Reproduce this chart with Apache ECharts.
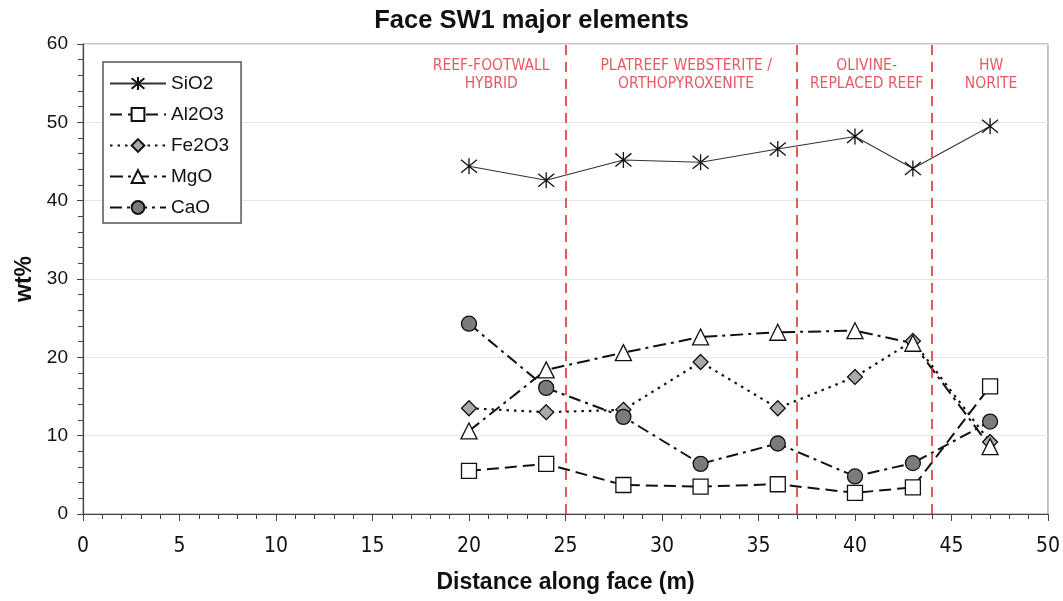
<!DOCTYPE html>
<html>
<head>
<meta charset="utf-8">
<script src="https://cdn.jsdelivr.net/npm/echarts@6/dist/echarts.min.js"></script>
<style>html,body{margin:0;padding:0;background:#fff}#c{width:1063px;height:601px}</style>
</head>
<body>
<div id="c"></div>
<script>
const distance = [20, 24, 28, 32, 36, 40, 43, 47];
const SiO2  = [44.4, 42.6, 45.2, 44.9, 46.6, 48.2, 44.1, 49.5];
const Al2O3 = [5.5, 6.4, 3.7, 3.5, 3.8, 2.7, 3.4, 16.3];
const Fe2O3 = [13.5, 13.0, 13.3, 19.4, 13.5, 17.5, 22.1, 9.2];
const MgO   = [10.6, 18.4, 20.6, 22.6, 23.2, 23.4, 21.8, 8.6];
const CaO   = [24.3, 16.1, 12.4, 6.4, 9.0, 4.8, 6.5, 11.8];
const boundaries = [25, 37, 44];
const regionNames = ['REEF-FOOTWALL\nHYBRID', 'PLATREEF WEBSTERITE /\nORTHOPYROXENITE', 'OLIVINE-\nREPLACED REEF', 'HW\nNORITE'];
const regionLabelX = [21.15, 31.25, 40.6, 47.05];
const regionLabelY = 56.1;

const pts = arr => distance.map((d, i) => [d, arr[i]]);
const FONT = '"Liberation Sans", Arial, sans-serif';
const NARROW = '"Liberation Sans Narrow", "DejaVu Sans Condensed", Arial, sans-serif';
const star = 'path://M0,-10L0,10M-6,-8.2L6,8.2M-6,8.2L6,-8.2';

function lineSeries(name, arr, symbol, size, fill, dash, width, lineColor) {
  return {
    name, type: 'line', data: pts(arr), symbol, symbolSize: size,
    itemStyle: { color: fill, borderColor: '#111', borderWidth: 1.3 },
    lineStyle: { color: lineColor || '#111', width, type: dash },
    emphasis: { disabled: true }, z: 3
  };
}

const chart = echarts.init(document.getElementById('c'), null, { renderer: 'canvas' });
chart.setOption({
  animation: false,
  backgroundColor: '#fff',
  title: {
    text: 'Face SW1 major elements', left: 'center', top: 3,
    textStyle: { fontFamily: FONT, fontSize: 25.5, fontWeight: 'bold', color: '#111' }
  },
  grid: { left: 83, right: 15, top: 44, bottom: 87, show: true, borderColor: '#888', borderWidth: 1, backgroundColor: 'transparent' },
  legend: {
    left: 103, top: 62, orient: 'vertical',
    itemWidth: 56, itemHeight: 16, itemGap: 12,
    padding: [12, 12, 6, 6],
    borderColor: '#555', borderWidth: 1.5, backgroundColor: '#fff',
    textStyle: { fontFamily: FONT, fontSize: 19, color: '#111' },
    data: ['SiO2', 'Al2O3', 'Fe2O3', 'MgO', 'CaO']
  },
  xAxis: {
    type: 'value', min: 0, max: 50, interval: 5,
    name: 'Distance along face (m)', nameLocation: 'middle', nameGap: 57,
    nameTextStyle: { fontFamily: FONT, fontSize: 23, fontWeight: 'bold', color: '#111' },
    axisLine: { lineStyle: { color: '#444', width: 1.2 } },
    axisTick: { show: true, length: 7, lineStyle: { color: '#444' } },
    minorTick: { show: true, splitNumber: 5, length: 5, lineStyle: { color: '#444' } },
    axisLabel: { fontFamily: NARROW, fontSize: 21, color: '#111', margin: 22 },
    splitLine: { show: false }
  },
  yAxis: {
    type: 'value', min: 0, max: 60, interval: 10,
    name: 'wt%', nameLocation: 'middle', nameGap: 32,
    nameTextStyle: { fontFamily: FONT, fontSize: 23, fontWeight: 'bold', color: '#111' },
    axisLine: { show: true, lineStyle: { color: '#444', width: 1.2 } },
    axisTick: { show: true, length: 6, lineStyle: { color: '#444' } },
    minorTick: { show: true, splitNumber: 5, length: 5, lineStyle: { color: '#444' } },
    axisLabel: { fontFamily: FONT, fontSize: 19, color: '#111', margin: 15 },
    splitLine: { show: true, lineStyle: { color: '#e6e6e6', width: 1 } }
  },
  series: [
    {
      name: 'boundaries', type: 'line', data: [], silent: true, z: 2,
      markLine: {
        silent: true, symbol: ['none', 'none'], label: { show: false },
        lineStyle: { color: '#e0303a', width: 1.6, type: [10, 7] },
        data: boundaries.map(b => ({ xAxis: b }))
      }
    },
    {
      name: 'regions', type: 'scatter', silent: true, symbolSize: 0, z: 4,
      data: regionLabelX.map((x, i) => ({ value: [x, regionLabelY], name: regionNames[i] })),
      label: {
        show: true, position: 'inside', formatter: p => p.name,
        fontFamily: NARROW, fontSize: 15.5, color: '#e0303a', lineHeight: 18, align: 'center'
      }
    },
    lineSeries('SiO2', SiO2, star, 16, '#222', 'solid', 1.1, '#333'),
    lineSeries('Al2O3', Al2O3, 'rect', 15, '#fff', [12, 6], 2),
    lineSeries('Fe2O3', Fe2O3, 'diamond', 15, '#a9a9a9', [2.5, 5], 2.2),
    lineSeries('MgO', MgO, 'triangle', 16, '#fff', [13, 5, 3, 5], 2),
    lineSeries('CaO', CaO, 'circle', 15, '#7b7b7b', [12, 5, 3, 5], 2)
  ]
});
</script>
</body>
</html>
